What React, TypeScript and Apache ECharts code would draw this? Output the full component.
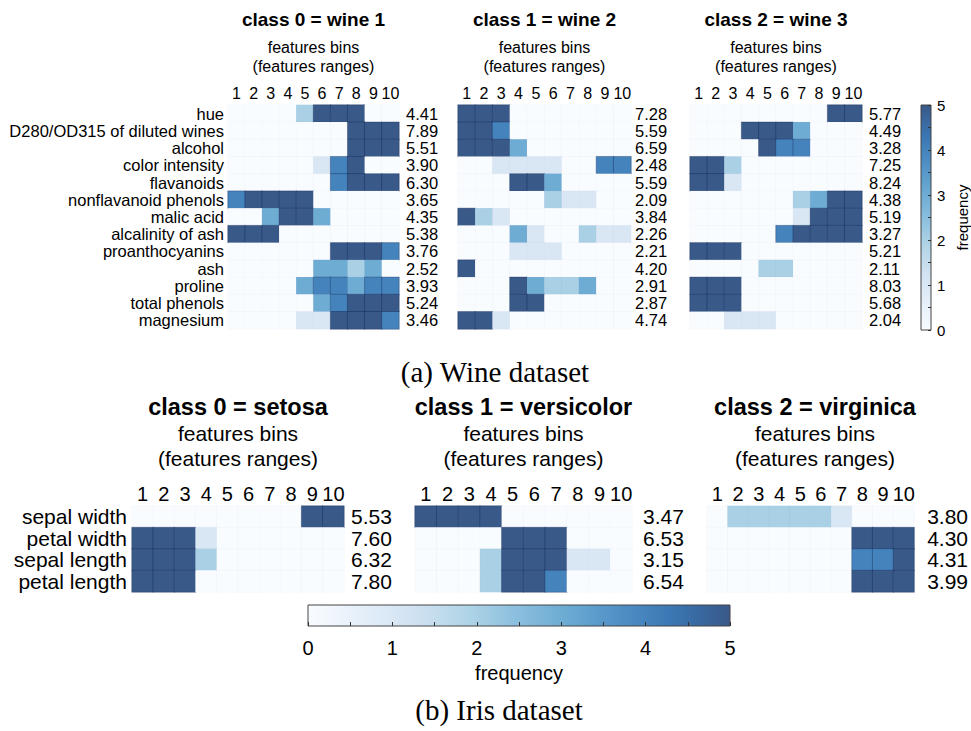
import React, { useEffect, useRef } from 'react';
import * as echarts from 'echarts';

// ---------- data ----------
const BINS = ['1', '2', '3', '4', '5', '6', '7', '8', '9', '10'];

const wineFeatures = [
  'hue', 'D280/OD315 of diluted wines', 'alcohol', 'color intensity', 'flavanoids',
  'nonflavanoid phenols', 'malic acid', 'alcalinity of ash', 'proanthocyanins', 'ash',
  'proline', 'total phenols', 'magnesium',
];
const wineTitles = ['class 0 = wine 1', 'class 1 = wine 2', 'class 2 = wine 3'];

const wineRanges0 = ['4.41', '7.89', '5.51', '3.90', '6.30', '3.65', '4.35', '5.38', '3.76', '2.52', '3.93', '5.24', '3.46'];
const wineRanges1 = ['7.28', '5.59', '6.59', '2.48', '5.59', '2.09', '3.84', '2.26', '2.21', '4.20', '2.91', '2.87', '4.74'];
const wineRanges2 = ['5.77', '4.49', '3.28', '7.25', '8.24', '4.38', '5.19', '3.27', '5.21', '2.11', '8.03', '5.68', '2.04'];

const wineFreq0 = [
  [0, 0, 0, 0, 2, 5, 5, 5, 0, 0],
  [0, 0, 0, 0, 0, 0, 0, 5, 5, 5],
  [0, 0, 0, 0, 0, 0, 0, 5, 5, 5],
  [0, 0, 0, 0, 0, 1, 4, 5, 0, 0],
  [0, 0, 0, 0, 0, 0, 4, 5, 5, 5],
  [4, 5, 5, 5, 5, 0, 0, 0, 0, 0],
  [0, 0, 3, 5, 5, 3, 0, 0, 0, 0],
  [5, 5, 5, 0, 0, 0, 0, 0, 0, 0],
  [0, 0, 0, 0, 0, 0, 5, 5, 5, 4],
  [0, 0, 0, 0, 0, 3, 3, 2, 3, 0],
  [0, 0, 0, 0, 3, 4, 4, 3, 4, 4],
  [0, 0, 0, 0, 0, 3, 4, 5, 5, 5],
  [0, 0, 0, 0, 1, 1, 5, 5, 5, 4],
];
const wineFreq1 = [
  [5, 5, 5, 0, 0, 0, 0, 0, 0, 0],
  [5, 5, 4, 0, 0, 0, 0, 0, 0, 0],
  [5, 5, 5, 3, 0, 0, 0, 0, 0, 0],
  [0, 0, 1, 1, 1, 1, 0, 0, 4, 4],
  [0, 0, 0, 5, 5, 3, 0, 0, 0, 0],
  [0, 0, 0, 0, 0, 2, 1, 1, 0, 0],
  [5, 2, 1, 0, 0, 0, 0, 0, 0, 0],
  [0, 0, 0, 3, 1, 0, 0, 2, 1, 1],
  [0, 0, 0, 1, 1, 1, 0, 0, 0, 0],
  [5, 0, 0, 0, 0, 0, 0, 0, 0, 0],
  [0, 0, 0, 5, 3, 2, 2, 3, 0, 0],
  [0, 0, 0, 5, 5, 0, 0, 0, 0, 0],
  [5, 5, 1, 0, 0, 0, 0, 0, 0, 0],
];
const wineFreq2 = [
  [0, 0, 0, 0, 0, 0, 0, 0, 5, 5],
  [0, 0, 0, 5, 5, 5, 3, 0, 0, 0],
  [0, 0, 0, 0, 5, 4, 4, 0, 0, 0],
  [5, 5, 2, 0, 0, 0, 0, 0, 0, 0],
  [5, 5, 1, 0, 0, 0, 0, 0, 0, 0],
  [0, 0, 0, 0, 0, 0, 2, 3, 5, 5],
  [0, 0, 0, 0, 0, 0, 1, 5, 5, 5],
  [0, 0, 0, 0, 0, 4, 5, 5, 5, 5],
  [5, 5, 5, 0, 0, 0, 0, 0, 0, 0],
  [0, 0, 0, 0, 2, 2, 0, 0, 0, 0],
  [5, 5, 5, 0, 0, 0, 0, 0, 0, 0],
  [5, 5, 5, 0, 0, 0, 0, 0, 0, 0],
  [0, 0, 1, 1, 1, 0, 0, 0, 0, 0],
];

const irisFeatures = ['sepal width', 'petal width', 'sepal length', 'petal length'];
const irisTitles = ['class 0 = setosa', 'class 1 = versicolor', 'class 2 = virginica'];
const irisRanges0 = ['5.53', '7.60', '6.32', '7.80'];
const irisRanges1 = ['3.47', '6.53', '3.15', '6.54'];
const irisRanges2 = ['3.80', '4.30', '4.31', '3.99'];
const irisFreq0 = [
  [0, 0, 0, 0, 0, 0, 0, 0, 5, 5],
  [5, 5, 5, 1, 0, 0, 0, 0, 0, 0],
  [5, 5, 5, 2, 0, 0, 0, 0, 0, 0],
  [5, 5, 5, 0, 0, 0, 0, 0, 0, 0],
];
const irisFreq1 = [
  [5, 5, 5, 5, 0, 0, 0, 0, 0, 0],
  [0, 0, 0, 0, 5, 5, 5, 0, 0, 0],
  [0, 0, 0, 2, 5, 5, 5, 1, 1, 0],
  [0, 0, 0, 2, 5, 5, 4, 0, 0, 0],
];
const irisFreq2 = [
  [0, 2, 2, 2, 2, 2, 1, 0, 0, 0],
  [0, 0, 0, 0, 0, 0, 0, 5, 5, 5],
  [0, 0, 0, 0, 0, 0, 0, 4, 4, 5],
  [0, 0, 0, 0, 0, 0, 0, 5, 5, 5],
];

const FREQ_MIN = 0;
const FREQ_MAX = 5;
const colorbarName = 'frequency';
const captionA = '(a) Wine dataset';
const captionB = '(b) Iris dataset';

// ---------- styling / layout ----------
const FF = "'Liberation Sans', Arial, Helvetica, sans-serif";
const SERIF = "'Liberation Serif', 'DejaVu Serif', serif";
const COLORS = ['#f9fcff', '#e5effa', '#d1e2f2', '#b1d5e7', '#89bede', '#68a8d1', '#4d8dc4', '#3974b0', '#395989'];

const wineGrids = [
  { left: 228, width: 171, margin: 7 },
  { left: 458, width: 173, margin: 4 },
  { left: 690, width: 172, margin: 7 },
];
const WINE_TOP = 105;
const WINE_H = 224;
const irisGrids = [
  { left: 132, width: 212, margin: 7 },
  { left: 415, width: 217, margin: 11 },
  { left: 707, width: 216, margin: 13 },
];
const IRIS_TOP = 506;
const IRIS_H = 86;

function toCells(m: number[][]) {
  const out: any[] = [];
  m.forEach((row, r) =>
    row.forEach((v, c) =>
      out.push({
        value: [c, r, v],
        itemStyle: v >= 4
          ? { borderColor: 'rgba(12,35,80,0.55)', borderWidth: 0.6 }
          : { borderColor: 'rgba(8,48,107,0.05)', borderWidth: 0.5 },
      })
    )
  );
  return out;
}

export default function App() {
  const ref = useRef<HTMLDivElement>(null);
  useEffect(() => {
    if (!ref.current) return;
    const chart = echarts.init(ref.current, undefined, { renderer: 'svg' });

    const wineFreqs = [wineFreq0, wineFreq1, wineFreq2];
    const wineRanges = [wineRanges0, wineRanges1, wineRanges2];
    const irisFreqs = [irisFreq0, irisFreq1, irisFreq2];
    const irisRanges = [irisRanges0, irisRanges1, irisRanges2];

    const grids: any[] = [];
    const xAxes: any[] = [];
    const yAxes: any[] = [];
    const series: any[] = [];
    const graphics: any[] = [];

    const panels = [
      ...wineGrids.map((g, i) => ({
        g, top: WINE_TOP, h: WINE_H, feats: wineFeatures, ranges: wineRanges[i], freq: wineFreqs[i],
        showNames: i === 0, fs: 16.5, lh: 16, colFs: 16, colMargin: 4, nameMargin: 4,
        title: wineTitles[i], tY: 19, bY: 47, rY: 66, tFs: 19, bFs: 16,
      })),
      ...irisGrids.map((g, i) => ({
        g, top: IRIS_TOP, h: IRIS_H, feats: irisFeatures, ranges: irisRanges[i], freq: irisFreqs[i],
        showNames: i === 0, fs: 21, lh: 20, colFs: 20, colMargin: 2, nameMargin: 5,
        title: irisTitles[i], tY: 407, bY: 433, rY: 458, tFs: 23.5, bFs: 21,
      })),
    ];

    panels.forEach((p, i) => {
      grids.push({ left: p.g.left, top: p.top, width: p.g.width, height: p.h });
      xAxes.push({
        gridIndex: i, type: 'category', data: BINS, position: 'top',
        axisLine: { show: false }, axisTick: { show: false }, splitLine: { show: false },
        axisLabel: { interval: 0, fontSize: p.colFs, fontFamily: FF, color: '#000', margin: p.colMargin },
      });
      yAxes.push({
        gridIndex: i, type: 'category', data: p.feats, inverse: true,
        axisLine: { show: false }, axisTick: { show: false }, splitLine: { show: false },
        axisLabel: { show: p.showNames, interval: 0, fontSize: p.fs, lineHeight: p.lh, fontFamily: FF, color: '#000', margin: p.nameMargin },
      });
      yAxes.push({
        gridIndex: i, type: 'category', data: p.ranges, inverse: true, position: 'right',
        axisLine: { show: false }, axisTick: { show: false }, splitLine: { show: false },
        axisLabel: { interval: 0, fontSize: p.fs, lineHeight: p.lh, fontFamily: FF, color: '#000', margin: p.g.margin },
      });
      series.push({
        type: 'heatmap', xAxisIndex: i, yAxisIndex: 2 * i, data: toCells(p.freq),
        emphasis: { disabled: true },
      });
      const cx = p.g.left + p.g.width / 2;
      graphics.push(
        { type: 'text', x: cx, y: p.tY, style: { text: p.title, fontSize: p.tFs, fontWeight: 'bold', fontFamily: FF, fill: '#000', align: 'center', verticalAlign: 'middle' } },
        { type: 'text', x: cx, y: p.bY, style: { text: 'features bins', fontSize: p.bFs, fontFamily: FF, fill: '#000', align: 'center', verticalAlign: 'middle' } },
        { type: 'text', x: cx, y: p.rY, style: { text: '(features ranges)', fontSize: p.bFs, fontFamily: FF, fill: '#000', align: 'center', verticalAlign: 'middle' } },
      );
    });

    const stops = COLORS.map((c, k) => ({ offset: k / (COLORS.length - 1), color: c }));
    const tickStyle = { color: '#333', width: 1 };

    // vertical colorbar (wine): grid 6, xAxis 6, yAxis 12
    grids.push({ left: 921, top: 105, width: 13, height: 225 });
    xAxes.push({ gridIndex: 6, type: 'category', data: [''], show: false });
    yAxes.push({
      gridIndex: 6, type: 'value', min: FREQ_MIN, max: FREQ_MAX, interval: 1, position: 'right', z: 10,
      axisLine: { show: false }, splitLine: { show: false },
      axisTick: { show: true, inside: true, length: 3, lineStyle: tickStyle },
      minorTick: { show: true, splitNumber: 2, length: 3, lineStyle: tickStyle },
      axisLabel: { fontSize: 15, fontFamily: FF, color: '#000', margin: 6 },
      name: colorbarName, nameLocation: 'middle', nameGap: 24, nameRotate: 90,
      nameTextStyle: { fontSize: 15, fontFamily: FF, color: '#000' },
    });
    series.push({
      type: 'custom', xAxisIndex: 6, yAxisIndex: 12, data: [[0, FREQ_MAX]], silent: true, z: 1,
      renderItem: (params: any, api: any) => {
        const cs = params.coordSys;
        const t = api.coord([0, FREQ_MAX]);
        const b = api.coord([0, FREQ_MIN]);
        return {
          type: 'rect',
          shape: { x: cs.x, y: t[1], width: cs.width, height: b[1] - t[1] },
          style: { fill: new echarts.graphic.LinearGradient(0, 1, 0, 0, stops), stroke: '#444', lineWidth: 1 },
        };
      },
    });

    // horizontal colorbar (iris): grid 7, xAxis 7, yAxis 13
    grids.push({ left: 308, top: 605, width: 422, height: 21 });
    xAxes.push({
      gridIndex: 7, type: 'value', min: FREQ_MIN, max: FREQ_MAX, interval: 1, position: 'bottom', z: 10,
      axisLine: { show: false }, splitLine: { show: false },
      axisTick: { show: true, inside: true, length: 4, lineStyle: tickStyle },
      minorTick: { show: true, splitNumber: 2, length: 4, lineStyle: tickStyle },
      axisLabel: { fontSize: 20, fontFamily: FF, color: '#000', margin: 12 },
      name: colorbarName, nameLocation: 'middle', nameGap: 37,
      nameTextStyle: { fontSize: 20, fontFamily: FF, color: '#000' },
    });
    yAxes.push({ gridIndex: 7, type: 'category', data: [''], show: false });
    series.push({
      type: 'custom', xAxisIndex: 7, yAxisIndex: 13, data: [[FREQ_MAX, 0]], silent: true, z: 1,
      renderItem: (params: any, api: any) => {
        const cs = params.coordSys;
        const l = api.coord([FREQ_MIN, 0]);
        const r = api.coord([FREQ_MAX, 0]);
        return {
          type: 'rect',
          shape: { x: l[0], y: cs.y, width: r[0] - l[0], height: cs.height },
          style: { fill: new echarts.graphic.LinearGradient(0, 0, 1, 0, stops), stroke: '#444', lineWidth: 1 },
        };
      },
    });

    graphics.push(
      { type: 'text', x: 495, y: 372, style: { text: captionA, fontSize: 29, fontFamily: SERIF, fill: '#000', align: 'center', verticalAlign: 'middle' } },
      { type: 'text', x: 499, y: 710, style: { text: captionB, fontSize: 29, fontFamily: SERIF, fill: '#000', align: 'center', verticalAlign: 'middle' } },
    );

    chart.setOption({
      animation: false,
      backgroundColor: '#ffffff',
      grid: grids,
      xAxis: xAxes,
      yAxis: yAxes,
      visualMap: {
        type: 'continuous', show: false, min: FREQ_MIN, max: FREQ_MAX,
        seriesIndex: [0, 1, 2, 3, 4, 5], dimension: 2,
        inRange: { color: COLORS },
      },
      series,
      graphic: graphics,
    });
    return () => chart.dispose();
  }, []);
  return <div ref={ref} style={{ position: 'fixed', left: 0, top: 0, width: 971, height: 731 }} />;
}
